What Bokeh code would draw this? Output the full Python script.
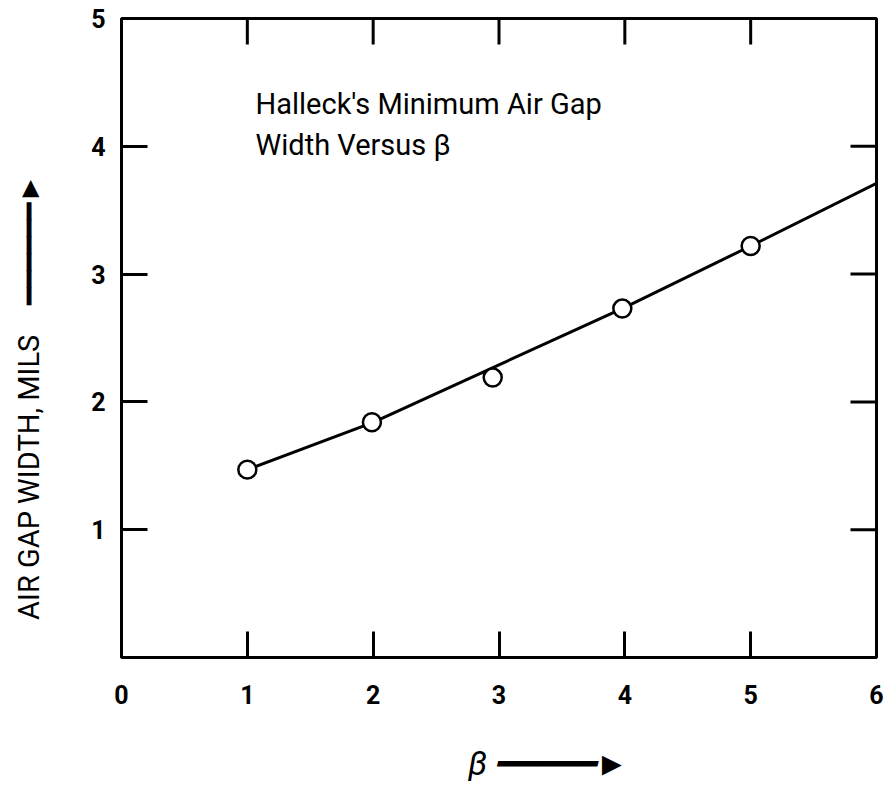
import math
from bokeh.plotting import figure
from bokeh.models import FixedTicker, Label
from bokeh.embed import file_html
from bokeh.resources import INLINE

# measured points
beta = [1.0, 1.99, 2.95, 3.98, 5.0]
gap = [1.47, 1.84, 2.19, 2.73, 3.22]

# fitted curve
curve_beta = [1, 2, 3, 4, 5, 6]
curve_gap = [1.47, 1.84, 2.29, 2.74, 3.22, 3.71]

x_ticks = [0, 1, 2, 3, 4, 5, 6]
y_ticks = [1, 2, 3, 4, 5]
top_ticks = [1, 2, 3, 4, 5]
right_ticks = [1, 2, 3, 4]

FONT = "Roboto"
EM = "\u2003"
SHAFT = "\u2501"
HEAD = "\u25BA"

p = figure(width=886, height=789, x_range=(0, 6), y_range=(0, 5),
           output_backend="svg", toolbar_location=None,
           min_border_left=121, min_border_right=10,
           min_border_top=18, min_border_bottom=132)
p.grid.visible = False
p.outline_line_color = "black"
p.outline_line_width = 3
p.background_fill_color = "white"
p.border_fill_color = "white"

for ax, ticks in [(p.xaxis[0], x_ticks), (p.yaxis[0], y_ticks)]:
    ax.ticker = FixedTicker(ticks=ticks)
    ax.axis_line_color = "black"
    ax.axis_line_width = 3
    ax.major_tick_line_color = "black"
    ax.major_tick_line_width = 3
    ax.major_tick_in = 26
    ax.major_tick_out = 0
    ax.minor_tick_line_color = None
    ax.major_label_text_font = FONT
    ax.major_label_text_font_size = "25px"
    ax.major_label_text_font_style = "bold"
    ax.major_label_text_color = "black"
    ax.axis_label_text_font = FONT
    ax.axis_label_text_color = "black"
p.xaxis[0].major_label_standoff = 27
p.yaxis[0].major_label_standoff = 16

# axis titles with arrows (em spaces shift the text along the axis)
p.yaxis[0].axis_label = "AIR GAP WIDTH, MILS" + EM + SHAFT * 6 + HEAD + EM * 4
p.yaxis[0].axis_label_text_font_size = "29px"
p.yaxis[0].axis_label_text_font_style = "normal"
p.yaxis[0].axis_label_standoff = 42

p.xaxis[0].axis_label = EM * 3 + "β " + SHAFT * 5 + HEAD
p.xaxis[0].axis_label_text_font_size = "33px"
p.xaxis[0].axis_label_text_font_style = "italic"
p.xaxis[0].axis_label_standoff = 37

# inward ticks on the top and right edges
p.ray(x=top_ticks, y=[5] * len(top_ticks), length=26, length_units="screen",
      angle=-math.pi / 2, line_color="black", line_width=3)
p.ray(x=[6] * len(right_ticks), y=right_ticks, length=26, length_units="screen",
      angle=math.pi, line_color="black", line_width=3)

p.line(curve_beta, curve_gap, line_color="black", line_width=3)
p.scatter(beta, gap, marker="circle", size=18, fill_color="white",
          line_color="black", line_width=2.5)

# in-plot title
p.add_layout(Label(x=1.065, y=4.33, text="Halleck's Minimum Air Gap", text_font=FONT,
                   text_font_size="29px", text_color="black",
                   text_baseline="alphabetic", text_align="left"))
p.add_layout(Label(x=1.065, y=4.01, text="Width Versus β", text_font=FONT,
                   text_font_size="29px", text_color="black",
                   text_baseline="alphabetic", text_align="left"))

open("out.html", "w").write(file_html(p, INLINE))
